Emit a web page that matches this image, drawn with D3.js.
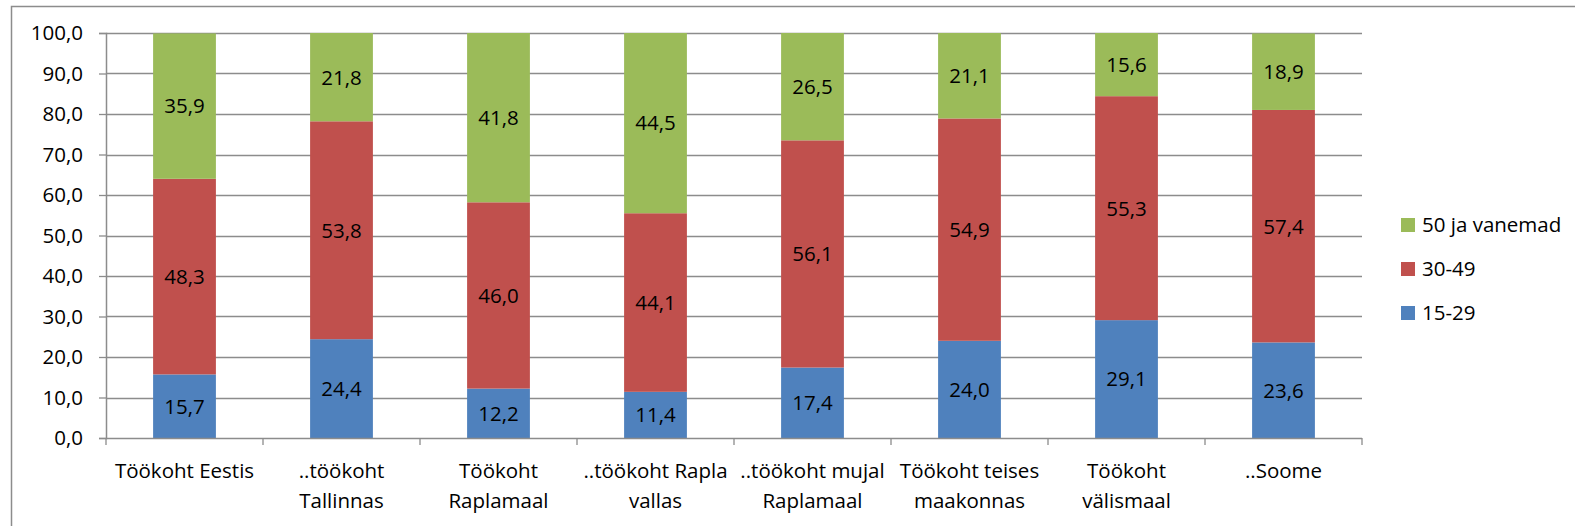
<!DOCTYPE html>
<meta charset="utf-8">
<head>
    <style>
        body { margin: 0; background: #fff; }
        text { font-family: "Open Sans", "Noto Sans", sans-serif; fill: #000; }
    </style>
    <script src="https://d3js.org/d3.v7.min.js"></script>
</head>
<body>
    <div id="chart"></div>
    <script>
        // categories (x axis), two-line labels
        var categories = [
            ["Töökoht Eestis"],
            ["..töökoht", "Tallinnas"],
            ["Töökoht", "Raplamaal"],
            ["..töökoht Rapla", "vallas"],
            ["..töökoht mujal", "Raplamaal"],
            ["Töökoht teises", "maakonnas"],
            ["Töökoht", "välismaal"],
            ["..Soome"]
        ];
        var seriesNames = ["15-29", "30-49", "50 ja vanemad"];
        var age15_29 = [15.7, 24.4, 12.2, 11.4, 17.4, 24.0, 29.1, 23.6];
        var age30_49 = [48.3, 53.8, 46.0, 44.1, 56.1, 54.9, 55.3, 57.4];
        var age50 = [35.9, 21.8, 41.8, 44.5, 26.5, 21.1, 15.6, 18.9];
        var yTicks = [0, 10, 20, 30, 40, 50, 60, 70, 80, 90, 100];
        var colors = ["#4F81BD", "#C0504D", "#9BBB59"];

        var width = 1575, height = 526;
        var plot = { left: 106, right: 1362, top: 33, bottom: 438 };
        var fs = "20.5px";

        var svg = d3.select("#chart").append("svg")
            .attr("width", width)
            .attr("height", height);

        // outer frame (only left and top edges visible)
        svg.append("path")
            .attr("d", "M11.5," + height + "V6.5H" + width)
            .attr("fill", "none")
            .attr("stroke", "#8c8c8c")
            .attr("stroke-width", 1.5);

        var x = d3.scaleBand()
            .domain(d3.range(categories.length))
            .range([plot.left, plot.right])
            .paddingInner(0.6)
            .paddingOuter(0.3);

        var y = d3.scaleLinear()
            .domain([0, 100])
            .range([plot.bottom, plot.top]);

        // gridlines
        svg.append("g")
            .selectAll("line")
            .data(yTicks.slice(1))
            .enter().append("line")
            .attr("x1", plot.left)
            .attr("x2", plot.right)
            .attr("y1", d => Math.round(y(d)) + 0.5)
            .attr("y2", d => Math.round(y(d)) + 0.5)
            .attr("stroke", "#8c8c8c")
            .attr("stroke-width", 1.3);

        // stacked data
        var rows = categories.map((c, i) => ({ i: i, a: age15_29[i], b: age30_49[i], c: age50[i] }));
        var stack = d3.stack().keys(["a", "b", "c"])(rows);

        var layers = svg.append("g")
            .selectAll("g")
            .data(stack)
            .enter().append("g")
            .attr("fill", (d, k) => colors[k]);

        layers.selectAll("rect")
            .data(d => d)
            .enter().append("rect")
            .attr("x", d => x(d.data.i))
            .attr("width", x.bandwidth())
            .attr("y", d => y(Math.min(d[1], 100)))
            .attr("height", d => y(d[0]) - y(Math.min(d[1], 100)));

        // value labels
        stack.forEach(function (layer, k) {
            svg.append("g")
                .selectAll("text")
                .data(layer)
                .enter().append("text")
                .attr("x", d => x(d.data.i) + x.bandwidth() / 2)
                .attr("y", d => (y(d[0]) + y(Math.min(d[1], 100))) / 2)
                .attr("dy", "0.36em")
                .attr("text-anchor", "middle")
                .style("font-size", fs)
                .text(d => d3.format(".1f")(d[1] - d[0]).replace(".", ","));
        });

        // y axis
        var yAxis = svg.append("g")
            .attr("transform", "translate(" + plot.left + ",0)")
            .call(d3.axisLeft(y).tickValues(yTicks).tickSize(7).tickPadding(16)
                .tickFormat(d => d3.format(".1f")(d).replace(".", ",")));
        yAxis.select(".domain").attr("stroke", "#8c8c8c").attr("stroke-width", 1.5);
        yAxis.selectAll(".tick line").attr("stroke", "#8c8c8c").attr("stroke-width", 1.3);
        yAxis.selectAll("text").style("font-size", fs).attr("fill", "#000");

        // x axis with ticks between categories
        var step = (plot.right - plot.left) / categories.length;
        var xAxis = svg.append("g");
        xAxis.append("line")
            .attr("x1", plot.left).attr("x2", plot.right)
            .attr("y1", plot.bottom + 0.5).attr("y2", plot.bottom + 0.5)
            .attr("stroke", "#8c8c8c").attr("stroke-width", 1.5);
        xAxis.selectAll(".sep")
            .data(d3.range(categories.length + 1))
            .enter().append("line")
            .attr("x1", d => plot.left + d * step)
            .attr("x2", d => plot.left + d * step)
            .attr("y1", plot.bottom)
            .attr("y2", plot.bottom + 7)
            .attr("stroke", "#8c8c8c").attr("stroke-width", 1.3);

        var xl = xAxis.selectAll(".xl")
            .data(categories)
            .enter().append("text")
            .attr("text-anchor", "middle")
            .attr("transform", (d, i) => "translate(" + (x(i) + x.bandwidth() / 2) + "," + (plot.bottom + 40) + ")")
            .style("font-size", fs);
        xl.selectAll("tspan")
            .data(d => d)
            .enter().append("tspan")
            .attr("x", 0)
            .attr("y", (d, j) => j * 30)
            .text(d => d);

        // legend
        var legend = svg.append("g")
            .selectAll("g")
            .data(seriesNames.map((n, k) => ({ name: n, k: k })).reverse())
            .enter().append("g")
            .attr("transform", (d, j) => "translate(1401," + (225 + j * 44) + ")");
        legend.append("rect")
            .attr("x", 0).attr("y", -7)
            .attr("width", 14).attr("height", 14)
            .attr("fill", d => colors[d.k]);
        legend.append("text")
            .attr("x", 21)
            .attr("dy", "0.36em")
            .style("font-size", fs)
            .text(d => d.name);
    </script>
</body>
